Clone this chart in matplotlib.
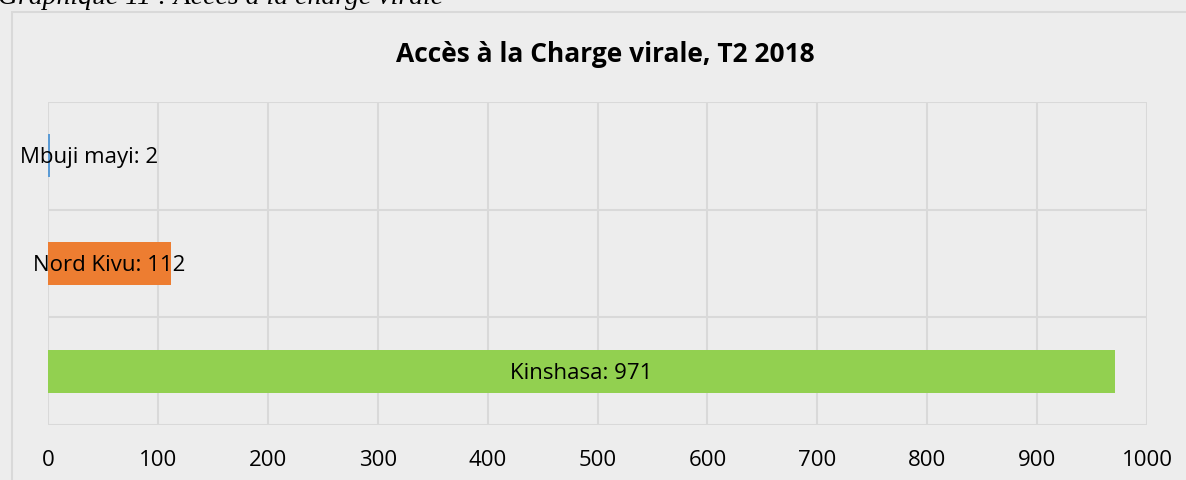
import matplotlib.pyplot as plt
from matplotlib.patches import Rectangle

# Données (de haut en bas dans le graphique)
provinces = ['Mbuji mayi', 'Nord Kivu', 'Kinshasa']
valeurs = [2, 112, 971]
couleurs = ['#5B9BD5', '#ED7D31', '#92D050']
graduations = [0, 100, 200, 300, 400, 500, 600, 700, 800, 900, 1000]

titre = 'Accès à la Charge virale, T2 2018'
legende_haut = 'Graphique 11 : Accès à la charge virale'

fond = '#EDEDED'
grille = '#D9D9D9'
police = 'Open Sans'

W, H = 1186, 481
fig = plt.figure(figsize=(W / 100, H / 100), dpi=100, facecolor=fond)
ax = fig.add_axes([48 / W, 1 - 426 / H, (1147 - 48) / W, (426 - 103) / H])
ax.set_facecolor(fond)

# cadre de la zone de graphique
fig.patches.append(Rectangle((12 / W, -0.1), 1.2, 1 - 13 / H + 0.1,
                             transform=fig.transFigure, fill=False,
                             edgecolor=grille, linewidth=1.5))

# légende de figure coupée en haut
fig.text(-2 / W, 1 - 3.5 / H, legende_haut, family='Liberation Serif',
         style='italic', fontsize=20, va='baseline', ha='left')

pos = list(range(len(provinces)))
ax.barh(pos, valeurs, height=0.4, color=couleurs, zorder=3)
ax.set_ylim(len(provinces) - 0.5, -0.5)
ax.set_xlim(0, 1000)
ax.set_xticks(graduations)
ax.set_xticklabels([str(g) for g in graduations])
ax.set_yticks([])

for x in graduations:
    ax.axvline(x, color=grille, lw=1.5, zorder=1)
for y in [-0.5, 0.5, 1.5, 2.5]:
    ax.axhline(y, color=grille, lw=1.5, zorder=1)

for s in ax.spines.values():
    s.set_visible(False)
ax.tick_params(axis='x', length=0, pad=17, labelsize=16)
for t in ax.get_xticklabels():
    t.set_family(police)

fig.text(0.5 * (398 + 813) / W, 1 - 62 / H, titre, family=police,
         weight='bold', fontsize=19, ha='center', va='baseline')

# étiquettes de données centrées, gardées dans la zone du graphique
fig.canvas.draw()
renderer = fig.canvas.get_renderer()
for i, v in enumerate(valeurs):
    t = ax.text(v / 2, i + 0.01, f'{provinces[i]}: {v}', family=police,
                fontsize=16, ha='center', va='center', zorder=4)
    bb = t.get_window_extent(renderer)
    if bb.x0 < 20:
        px, py = ax.transData.transform((v / 2, i + 0.01))
        t.set_position(ax.transData.inverted().transform((px + 20 - bb.x0, py)))

fig.savefig('out.png', dpi=100, facecolor=fond)
